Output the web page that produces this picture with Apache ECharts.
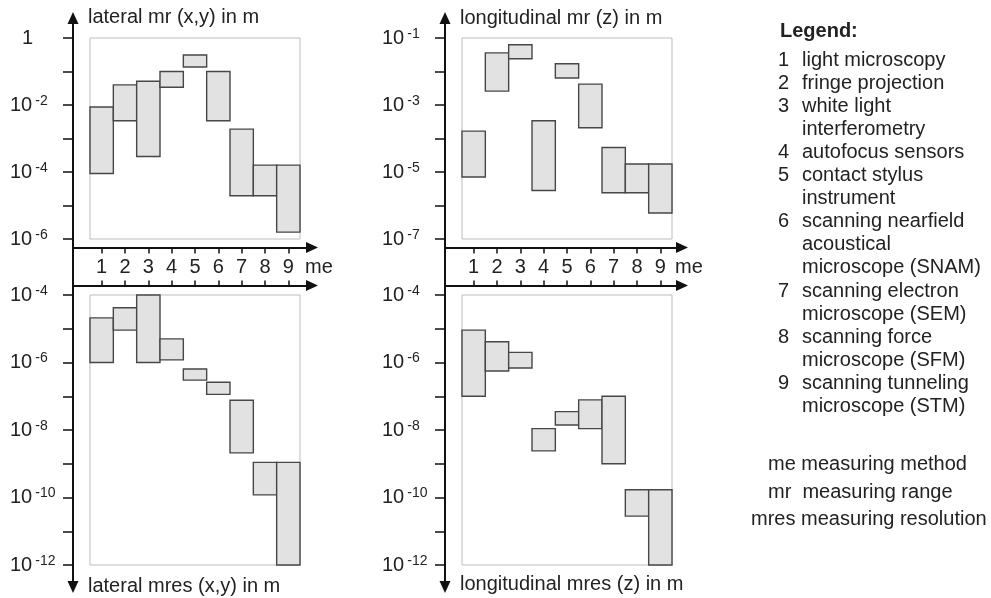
<!DOCTYPE html>
<html>
<head>
<meta charset="utf-8">
<script src="https://cdn.jsdelivr.net/npm/echarts@6/dist/echarts.min.js"></script>
<style>html,body{margin:0;padding:0;background:#fff}#c{width:991px;height:598px}</style>
</head>
<body>
<div id="c"></div>
<script>
// measuring methods (me)
const methods = ['1','2','3','4','5','6','7','8','9'];
// lateral measuring range mr (x,y) in m
const latRangeLow  = [9e-5, 3.4e-3, 2.9e-4, 3.4e-2, 0.136, 3.4e-3, 1.95e-5, 1.95e-5, 1.6e-6];
const latRangeHigh = [8.7e-3, 4.0e-2, 5.1e-2, 0.1, 0.31, 0.1, 1.9e-3, 1.6e-4, 1.6e-4];
// longitudinal measuring range mr (z) in m
const lonRangeLow  = [7.1e-6, 2.6e-3, 2.4e-2, 2.8e-6, 6.4e-3, 2.1e-4, 2.4e-6, 2.4e-6, 6.0e-7];
const lonRangeHigh = [1.66e-4, 3.6e-2, 6.3e-2, 3.4e-4, 1.7e-2, 4.2e-3, 5.4e-5, 1.74e-5, 1.74e-5];
// lateral measuring resolution mres (x,y) in m
const latResLow  = [1e-6, 9.1e-6, 1e-6, 1.2e-6, 3.0e-7, 1.14e-7, 2.1e-9, 1.2e-10, 1e-12];
const latResHigh = [2.1e-5, 4.2e-5, 1e-4, 5.0e-6, 6.4e-7, 2.6e-7, 7.6e-8, 1.1e-9, 1.1e-9];
// longitudinal measuring resolution mres (z) in m
const lonResLow  = [1.0e-7, 5.6e-7, 6.9e-7, 2.4e-9, 1.4e-8, 1.1e-8, 1.0e-9, 2.8e-11, 1e-12];
const lonResHigh = [9.1e-6, 4.1e-6, 2.0e-6, 1.1e-8, 3.5e-8, 7.8e-8, 1.0e-7, 1.7e-10, 1.7e-10];
// axis extents
const latRangeAxis = [1e-6, 1];
const lonRangeAxis = [1e-7, 1e-1];
const resAxis = [1e-12, 1e-4];
// labelled decade exponents (tick labels)
const latRangeLabelExps = [0, -2, -4, -6];
const lonRangeLabelExps = [-1, -3, -5, -7];
const resLabelExps = [-4, -6, -8, -10, -12];
// texts
const titles = {
  latRange: 'lateral mr (x,y) in m',
  lonRange: 'longitudinal mr (z) in m',
  latRes: 'lateral mres (x,y) in m',
  lonRes: 'longitudinal mres (z) in m'
};
const legendNums = ['1','2','3','','4','5','','6','','','7','','8','','9',''];
const legendLines = ['light microscopy','fringe projection','white light','interferometry','autofocus sensors','contact stylus','instrument','scanning nearfield','acoustical','microscope (SNAM)','scanning electron','microscope (SEM)','scanning force','microscope (SFM)','scanning tunneling','microscope (STM)'];
const abbrevs = ['me measuring method', 'mr  measuring range', 'mres measuring resolution'];

const FONT = '"Liberation Sans", Arial, Helvetica, sans-serif';
const FS = 20;
const TXT = '#222';
const AX = '#111';

function zip(lo, hi) { return lo.map((v, i) => [i, v, hi[i]]); }

function renderBar(params, api) {
  const i = api.value(0), lo = api.value(1), hi = api.value(2);
  const p1 = api.coord([i, hi]);
  const p2 = api.coord([i, lo]);
  const w = api.size([1, 0])[0];
  return {
    type: 'rect',
    shape: { x: p1[0] - w / 2, y: p1[1], width: w, height: p2[1] - p1[1] },
    style: { fill: '#e2e2e2', stroke: '#474747', lineWidth: 1.4 }
  };
}

function yLog(gridIndex, ext, labelExps) {
  return {
    type: 'log', logBase: 10, gridIndex, min: ext[0], max: ext[1],
    position: 'left', offset: 17,
    axisLine: { show: false },
    axisTick: { show: true, length: 10, lineStyle: { color: AX, width: 1.5 } },
    splitLine: { show: false },
    axisLabel: {
      margin: 63, align: 'left', verticalAlign: 'middle', color: TXT, fontFamily: FONT, fontSize: FS,
      formatter: function (v) {
        const e = Math.round(Math.log10(v));
        if (labelExps.indexOf(e) < 0) return '';
        if (e === 0) return '{one|1}';
        return '{b|10}{s|' + e + '}';
      },
      rich: {
        b: { fontSize: FS, lineHeight: 22, color: TXT, fontFamily: FONT },
        s: { fontSize: 14, lineHeight: 12, verticalAlign: 'top', padding: [0, 0, 0, 3], color: TXT, fontFamily: FONT },
        one: { fontSize: FS, lineHeight: 22, padding: [0, 0, 0, 12], color: TXT, fontFamily: FONT }
      }
    }
  };
}

function xCat(gridIndex, top) {
  return {
    type: 'category', gridIndex, data: methods,
    position: top ? 'top' : 'bottom', offset: top ? 9.5 : 8.5,
    axisLine: { show: false },
    axisTick: { show: true, alignWithLabel: true, length: top ? 5 : 6, lineStyle: { color: AX, width: 1.5 } },
    axisLabel: { show: !top, margin: 10, color: TXT, fontFamily: FONT, fontSize: FS },
    splitLine: { show: false }
  };
}

function hidden(gridIndex) {
  return { type: 'value', gridIndex, min: 0, max: 1, show: false };
}

function frameLine(gridIndex, pos, symbols) {
  return {
    type: 'value', gridIndex, min: 0, max: 1, position: pos,
    axisLine: { show: true, onZero: false, symbol: symbols, symbolSize: [11, 12], lineStyle: { color: AX, width: 2 } },
    axisTick: { show: false }, axisLabel: { show: false }, splitLine: { show: false }
  };
}

const gridBox = { show: true, borderColor: '#bdbdbd', borderWidth: 1, backgroundColor: 'transparent', outerBoundsMode: 'none' };
function plain(o) { return Object.assign({ outerBoundsMode: 'none' }, o); }

function txt(text, left, top, extra) {
  return {
    text, left, top, padding: 0,
    textStyle: Object.assign({ fontSize: FS, fontWeight: 'normal', color: TXT, fontFamily: FONT }, extra || {})
  };
}

const option = {
  animation: false,
  backgroundColor: '#fff',
  title: [
    txt(titles.latRange, 88, 7),
    txt(titles.lonRange, 460, 8),
    txt(titles.latRes, 88, 576),
    txt(titles.lonRes, 460, 574),
    txt('me', 305, 257),
    txt('me', 675, 257),
    txt('Legend:', 780, 21, { fontWeight: 'bold' }),
    txt(legendNums.join('\n'), 778, 48.5, { lineHeight: 23.1 }),
    txt(legendLines.join('\n'), 802, 48.5, { lineHeight: 23.1 }),
    txt(abbrevs[0], 768, 454),
    txt(abbrevs[1], 768, 482),
    txt(abbrevs[2], 751, 509)
  ],
  grid: [
    Object.assign({ left: 90, top: 38, width: 210, height: 201 }, gridBox),
    Object.assign({ left: 462, top: 38, width: 210, height: 201 }, gridBox),
    Object.assign({ left: 90, top: 295, width: 210, height: 270 }, gridBox),
    Object.assign({ left: 462, top: 295, width: 210, height: 270 }, gridBox),
    plain({ left: 73, top: 18, width: 40, height: 569 }),
    plain({ left: 445, top: 18, width: 40, height: 569 }),
    plain({ left: 73, top: 200, width: 239, height: 47.5 }),
    plain({ left: 73, top: 285.5, width: 239, height: 40 }),
    plain({ left: 445, top: 200, width: 237, height: 47.5 }),
    plain({ left: 445, top: 285.5, width: 237, height: 40 })
  ],
  xAxis: [
    xCat(0, false), xCat(1, false), xCat(2, true), xCat(3, true),
    hidden(4), hidden(5),
    frameLine(6, 'bottom', ['none', 'triangle']),
    frameLine(7, 'top', ['none', 'triangle']),
    frameLine(8, 'bottom', ['none', 'triangle']),
    frameLine(9, 'top', ['none', 'triangle'])
  ],
  yAxis: [
    yLog(0, latRangeAxis, latRangeLabelExps),
    yLog(1, lonRangeAxis, lonRangeLabelExps),
    yLog(2, resAxis, resLabelExps),
    yLog(3, resAxis, resLabelExps),
    frameLine(4, 'left', ['triangle', 'triangle']),
    frameLine(5, 'left', ['triangle', 'triangle']),
    hidden(6), hidden(7), hidden(8), hidden(9)
  ],
  series: [
    { type: 'custom', name: titles.latRange, xAxisIndex: 0, yAxisIndex: 0, renderItem: renderBar, encode: { x: 0, y: [1, 2] }, data: zip(latRangeLow, latRangeHigh), z: 1 },
    { type: 'custom', name: titles.lonRange, xAxisIndex: 1, yAxisIndex: 1, renderItem: renderBar, encode: { x: 0, y: [1, 2] }, data: zip(lonRangeLow, lonRangeHigh), z: 1 },
    { type: 'custom', name: titles.latRes, xAxisIndex: 2, yAxisIndex: 2, renderItem: renderBar, encode: { x: 0, y: [1, 2] }, data: zip(latResLow, latResHigh), z: 1 },
    { type: 'custom', name: titles.lonRes, xAxisIndex: 3, yAxisIndex: 3, renderItem: renderBar, encode: { x: 0, y: [1, 2] }, data: zip(lonResLow, lonResHigh), z: 1 }
  ]
};

const chart = echarts.init(document.getElementById('c'), null, { renderer: 'canvas' });
chart.setOption(option);
</script>
</body>
</html>
